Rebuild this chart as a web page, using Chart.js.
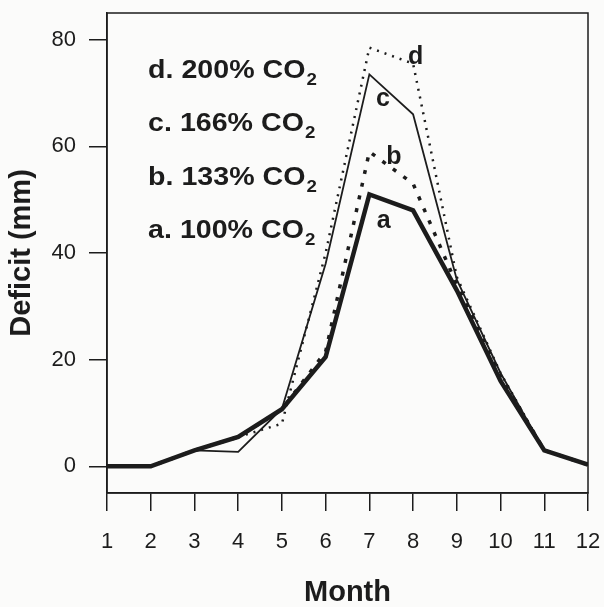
<!DOCTYPE html>
<html>
<head>
<meta charset="utf-8">
<script src="https://cdn.jsdelivr.net/npm/chart.js@4.4.1/dist/chart.umd.min.js"></script>
<style>
  html, body { margin: 0; padding: 0; background: #fbfbfa; }
</style>
</head>
<body>
<canvas id="deficitChart" width="604" height="607"></canvas>
<script>
// months on the x axis, deficit in mm
const months = [1, 2, 3, 4, 5, 6, 7, 8, 9, 10, 11, 12];
const yTicks = [0, 20, 40, 60, 80];

const deficitA = [0, 0, 3, 5.5, 10.7, 20.5, 51, 48, 33, 16, 3, 0.3];   // 100% CO2
const deficitB = [0, 0, 3, 5.5, 10.7, 21.5, 59, 53, 34, 17, 3, 0.3];   // 133% CO2
const deficitC = [0, 0, 3, 2.7, 10.8, 38, 73.5, 66, 35, 17.5, 3, 0.3]; // 166% CO2
const deficitD = [0, 0, 3, 5.5, 8, 40, 78.5, 75.5, 35.5, 17.5, 3, 0.3]; // 200% CO2

const seriesNames = ["d. 200% CO", "c. 166% CO", "b. 133% CO", "a. 100% CO"];
const seriesLetters = ["d", "c", "b", "a"];

const ink = "#1c1c1c";
const fontFamily = '"Liberation Sans", Arial, Helvetica, sans-serif';

// where the text notes sit, in data units (month, mm)
const nameAnchors = [[1.94, 72.9], [1.94, 62.8], [1.94, 52.8], [1.94, 42.9]];
const letterAnchors = [[8.06, 76.8], [7.31, 68.8], [7.56, 57.9], [7.33, 45.9]];

const notesPlugin = {
  id: "notes",
  afterDraw(chart) {
    const { ctx, chartArea, scales } = chart;
    ctx.save();
    // frame around the plot
    ctx.strokeStyle = ink;
    ctx.lineWidth = 1.5;
    ctx.strokeRect(chartArea.left, chartArea.top, chartArea.width, chartArea.height);

    ctx.fillStyle = ink;
    ctx.textAlign = "left";
    ctx.textBaseline = "alphabetic";
    seriesNames.forEach((name, i) => {
      const px = scales.x.getPixelForValue(nameAnchors[i][0]);
      const py = scales.y.getPixelForValue(nameAnchors[i][1]);
      ctx.save();
      ctx.translate(px, py);
      ctx.scale(1.1, 1);
      ctx.font = "bold 26px " + fontFamily;
      ctx.fillText(name, 0, 0);
      const w = ctx.measureText(name).width;
      ctx.font = "bold 17px " + fontFamily;
      ctx.fillText("2", w + 1, 7);
      ctx.restore();
    });

    ctx.textAlign = "center";
    ctx.textBaseline = "middle";
    ctx.font = "bold 25px " + fontFamily;
    seriesLetters.forEach((letter, i) => {
      const px = scales.x.getPixelForValue(letterAnchors[i][0]);
      const py = scales.y.getPixelForValue(letterAnchors[i][1]);
      ctx.fillText(letter, px, py);
    });
    ctx.restore();
  }
};

const toPoints = (vals) => vals.map((v, i) => ({ x: months[i], y: v }));

// drop the label overhang so the plot box lands where the padding says
const noOverhang = (axis) => {
  axis.paddingTop = 0;
  axis.paddingBottom = 0;
  axis.paddingLeft = 0;
  axis.paddingRight = 0;
};

new Chart(document.getElementById("deficitChart"), {
  type: "line",
  data: {
    datasets: [
      {
        label: "a. 100% CO2",
        data: toPoints(deficitA),
        borderColor: ink,
        borderWidth: 4.5,
        pointRadius: 0
      },
      {
        label: "b. 133% CO2",
        data: toPoints(deficitB),
        borderColor: ink,
        borderWidth: 3.5,
        borderDash: [4, 9],
        pointRadius: 0
      },
      {
        label: "c. 166% CO2",
        data: toPoints(deficitC),
        borderColor: ink,
        borderWidth: 1.8,
        pointRadius: 0
      },
      {
        label: "d. 200% CO2",
        data: toPoints(deficitD),
        borderColor: ink,
        borderWidth: 2.5,
        borderDash: [2, 6],
        pointRadius: 0
      }
    ]
  },
  options: {
    responsive: false,
    animation: false,
    devicePixelRatio: 1,
    layout: { padding: { top: 13, right: 16, left: 0, bottom: 0 } },
    plugins: {
      legend: { display: false },
      tooltip: { enabled: false }
    },
    scales: {
      x: {
        type: "linear",
        min: 1,
        max: 12,
        afterBuildTicks: (axis) => { axis.ticks = months.map((v) => ({ value: v })); },
        afterFit: (axis) => { axis.height = 114; noOverhang(axis); },
        grid: { drawOnChartArea: false, tickLength: 18, color: ink, lineWidth: 1.5 },
        border: { color: ink, width: 1.5 },
        ticks: { padding: 18, color: ink, autoSkip: false, maxRotation: 0, font: { family: fontFamily, size: 22 } },
        title: {
          display: true,
          text: "Month",
          color: ink,
          padding: { top: 0, bottom: 0 },
          font: { family: fontFamily, size: 29, weight: "bold", lineHeight: 1 }
        }
      },
      y: {
        min: -5,
        max: 85,
        afterBuildTicks: (axis) => { axis.ticks = yTicks.map((v) => ({ value: v })); },
        afterFit: (axis) => { axis.width = 107; noOverhang(axis); },
        grid: { drawOnChartArea: false, tickLength: 18, color: ink, lineWidth: 1.5 },
        border: { color: ink, width: 1.5 },
        ticks: { padding: 13, color: ink, font: { family: fontFamily, size: 22 } },
        title: {
          display: true,
          text: "Deficit (mm)",
          color: ink,
          padding: { top: 7, bottom: 0 },
          font: { family: fontFamily, size: 29, weight: "bold", lineHeight: 1 }
        }
      }
    }
  },
  plugins: [notesPlugin]
});
</script>
</body>
</html>
